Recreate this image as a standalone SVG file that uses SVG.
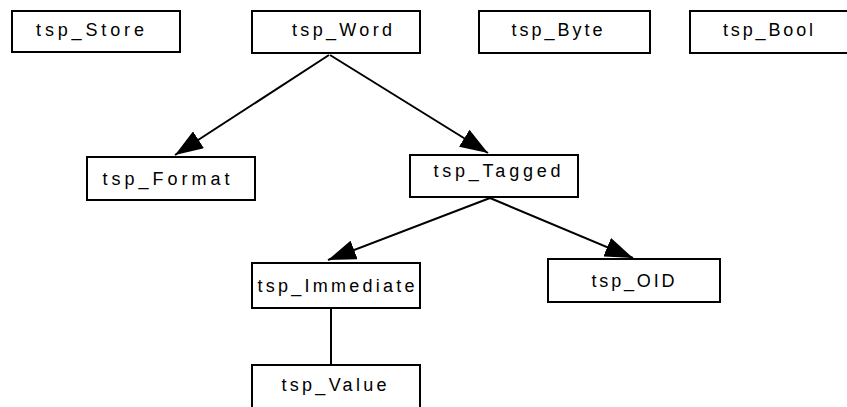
<svg xmlns="http://www.w3.org/2000/svg" width="847" height="407" viewBox="0 0 847 407">
  <style>
    .box { fill: #ffffff; stroke: #000000; stroke-width: 2; }
    .label { font-family: "Liberation Sans", Arial, sans-serif; font-size: 18px; fill: #000000; text-anchor: middle; }
    .edge { stroke: #000000; stroke-width: 2; fill: none; }
    .arrow { marker-end: url(#head); }
  </style>
  <defs>
    <marker id="head" viewBox="0 -10 28 20" markerUnits="userSpaceOnUse" markerWidth="28" markerHeight="20" refX="28" refY="0" orient="auto">
      <path d="M0,-10 L28,0 L0,10 Z" fill="#000000"/>
    </marker>
  </defs>
  <rect width="847" height="407" fill="#ffffff"/>

  <g id="connectors">
    <line class="edge arrow" x1="329" y1="55" x2="175" y2="155"/>
    <line class="edge arrow" x1="330" y1="55" x2="488" y2="153"/>
    <line class="edge arrow" x1="490" y1="198" x2="328" y2="260"/>
    <line class="edge arrow" x1="490" y1="198" x2="633" y2="258"/>
    <line class="edge" x1="331" y1="308" x2="331" y2="365"/>
  </g>

  <g id="tsp_Store">
    <rect class="box" x="12" y="11" width="168" height="41"/>
    <text class="label" x="90" y="36" textLength="108" lengthAdjust="spacing">tsp_Store</text>
  </g>
  <g id="tsp_Word">
    <rect class="box" x="252" y="11" width="168" height="42"/>
    <text class="label" x="342" y="36" textLength="100" lengthAdjust="spacing">tsp_Word</text>
  </g>
  <g id="tsp_Byte">
    <rect class="box" x="479" y="11" width="171" height="42"/>
    <text class="label" x="557" y="36" textLength="91" lengthAdjust="spacing">tsp_Byte</text>
  </g>
  <g id="tsp_Bool">
    <rect class="box" x="690" y="11" width="168" height="42"/>
    <text class="label" x="768" y="36" textLength="90" lengthAdjust="spacing">tsp_Bool</text>
  </g>
  <g id="tsp_Format">
    <rect class="box" x="87" y="157" width="168" height="43"/>
    <text class="label" x="166" y="185" textLength="127" lengthAdjust="spacing">tsp_Format</text>
  </g>
  <g id="tsp_Tagged">
    <rect class="box" x="410" y="155" width="168" height="42"/>
    <text class="label" x="497" y="177" textLength="127" lengthAdjust="spacing">tsp_Tagged</text>
  </g>
  <g id="tsp_Immediate">
    <rect class="box" x="252" y="263" width="168" height="45"/>
    <text class="label" x="336" y="292" textLength="157" lengthAdjust="spacing">tsp_Immediate</text>
  </g>
  <g id="tsp_OID">
    <rect class="box" x="548" y="259" width="172" height="43"/>
    <text class="label" x="633" y="287" textLength="83" lengthAdjust="spacing">tsp_OID</text>
  </g>
  <g id="tsp_Value">
    <rect class="box" x="252" y="365" width="168" height="45"/>
    <text class="label" x="334" y="391" textLength="105" lengthAdjust="spacing">tsp_Value</text>
  </g>
</svg>
